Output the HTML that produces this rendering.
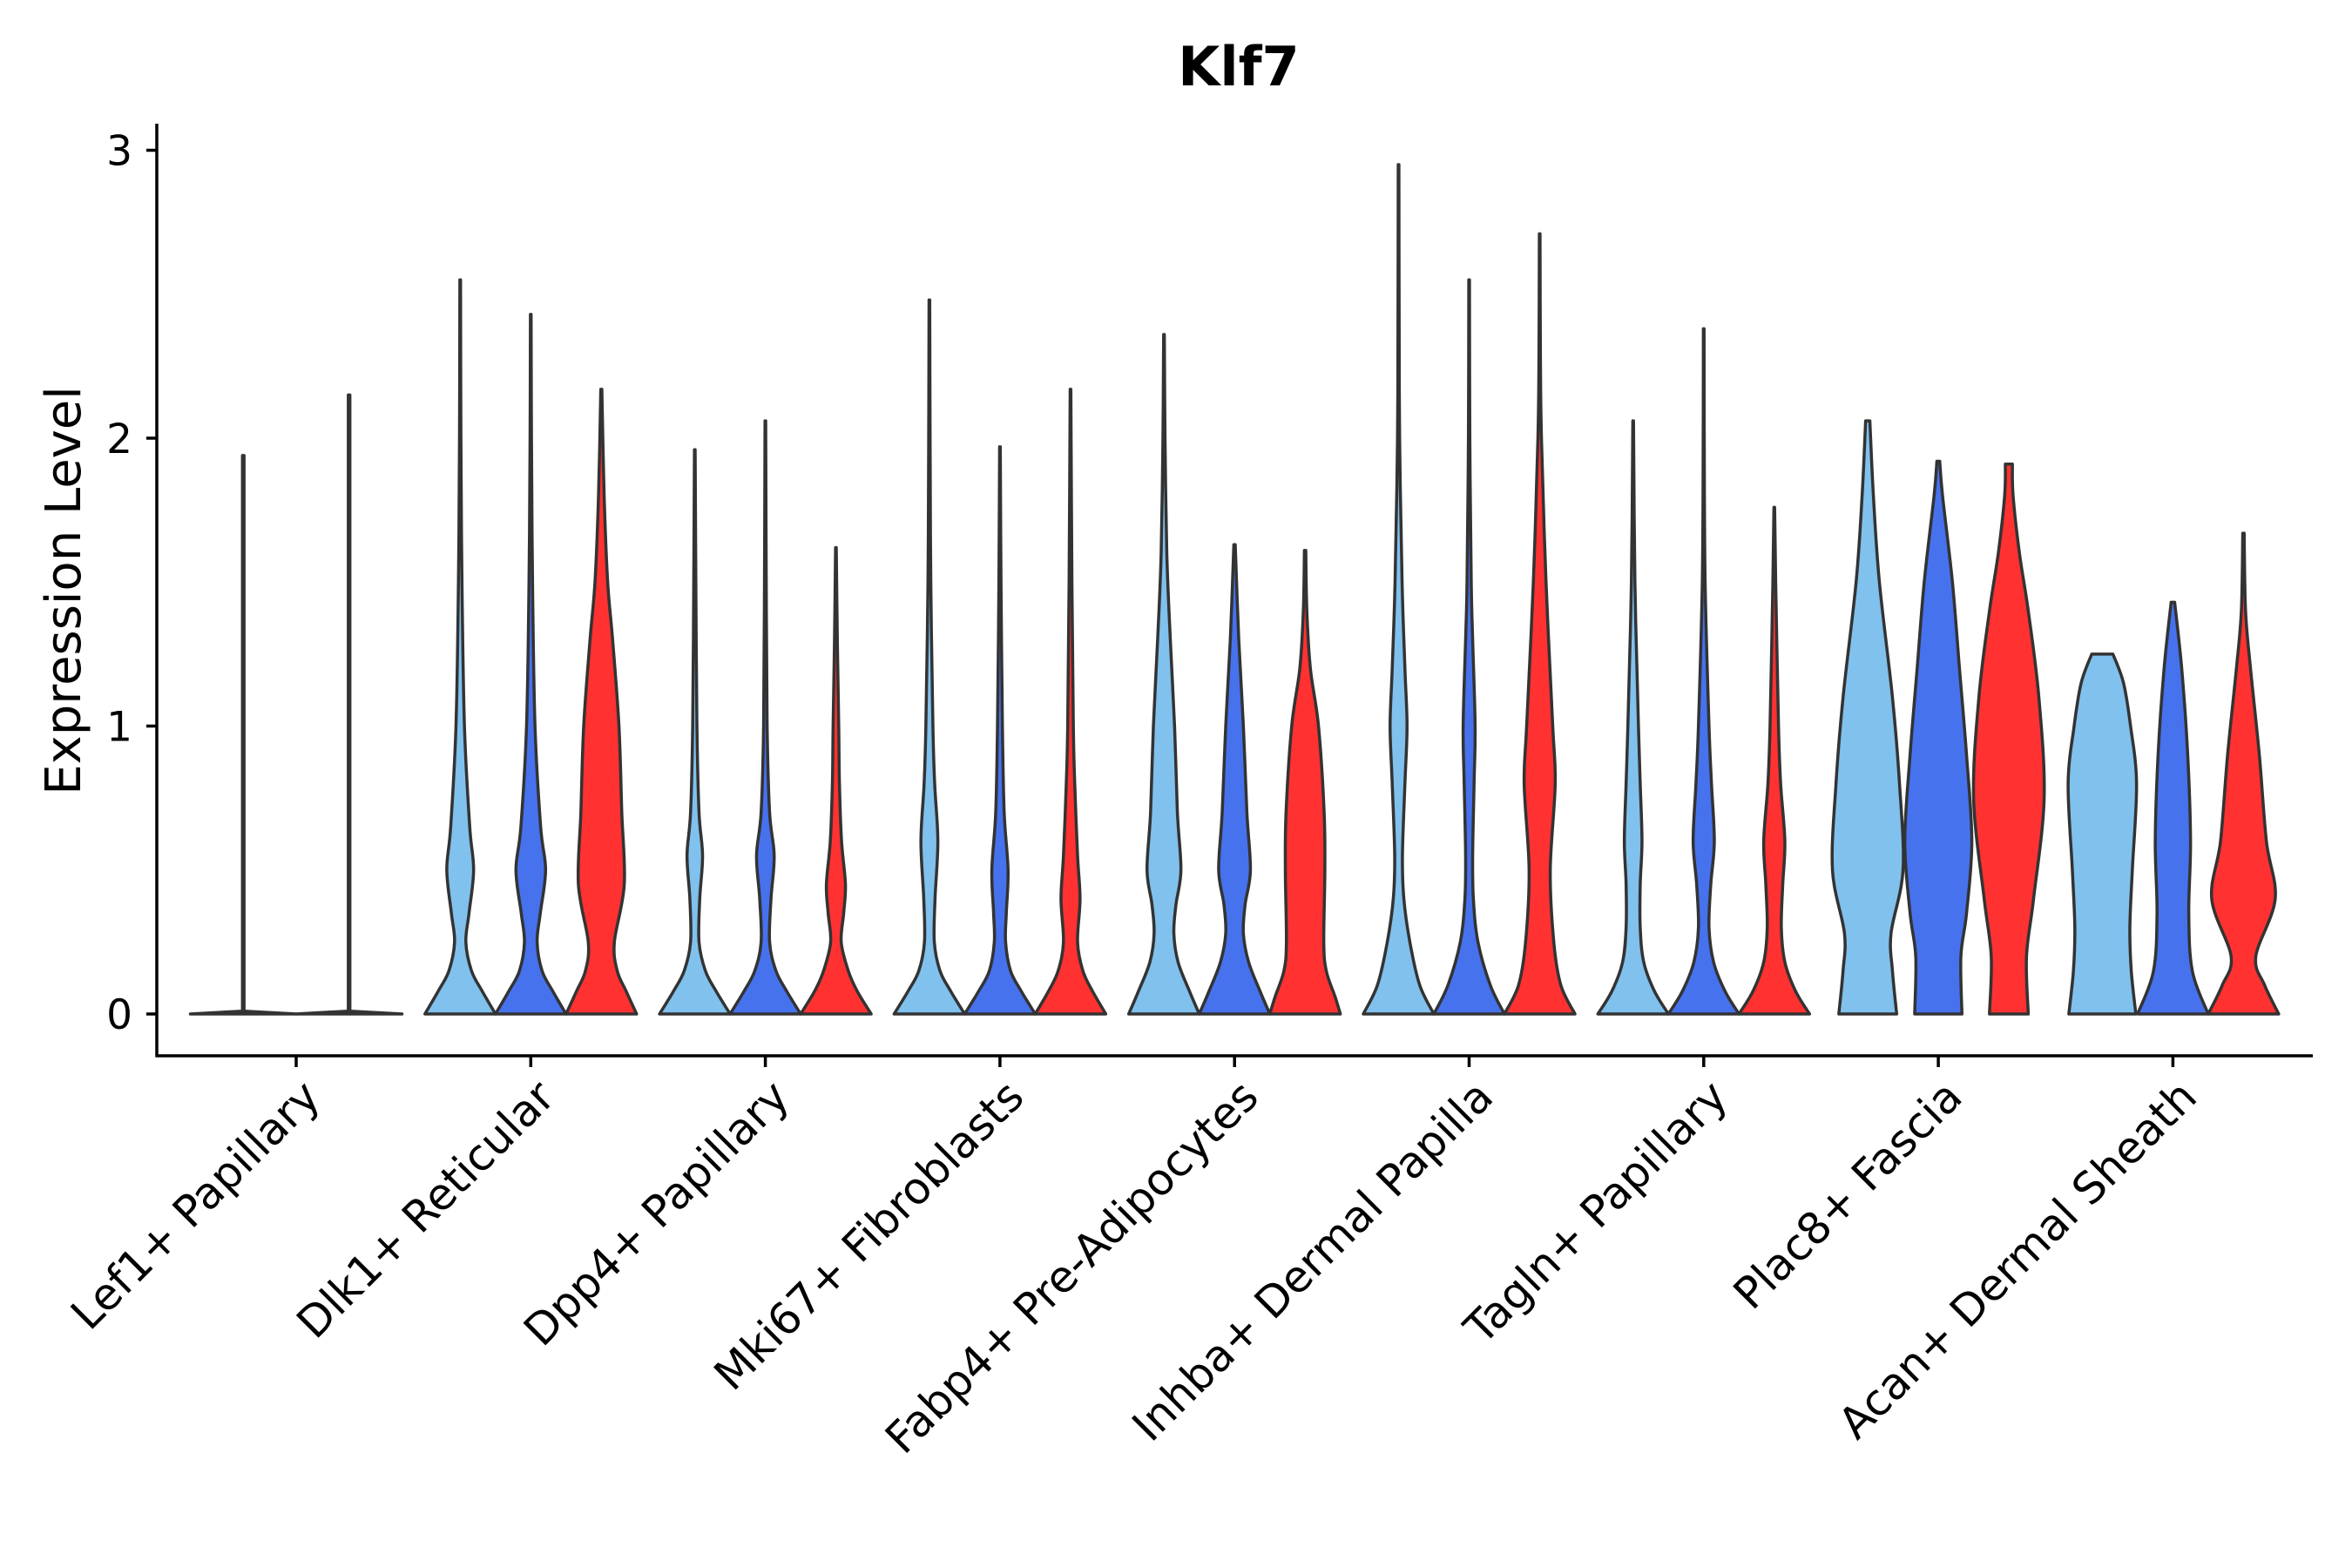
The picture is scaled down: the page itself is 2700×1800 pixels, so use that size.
<!DOCTYPE html>
<html><head><meta charset="utf-8"><style>
html,body{margin:0;padding:0;background:#fff;}
svg{display:block;}
text{font-family:"DejaVu Sans","Liberation Sans",sans-serif;fill:#000;}
</style></head><body>
<svg id="chart" width="2700" height="1800" viewBox="0 0 2700 1800" xmlns="http://www.w3.org/2000/svg">
<text x="1422" y="98" text-anchor="middle" font-size="62" font-weight="bold">Klf7</text>
<text transform="translate(92,678) rotate(-90)" text-anchor="middle" font-size="56">Expression Level</text>
<g id="violins"></g>
<g id="axes"></g>
</svg>
<script>
const categories=["Lef1+ Papillary","Dlk1+ Reticular","Dpp4+ Papillary","Mki67+ Fibroblasts","Fabp4+ Pre-Adipocytes","Inhba+ Dermal Papilla","Tagln+ Papillary","Plac8+ Fascia","Acan+ Dermal Sheath"];
const yTicks=[0,1,2,3];
const maxLight=[1.94,2.55,1.96,2.48,2.36,2.95,2.06,2.06,1.25];
const maxBlue=[2.15,2.43,2.06,1.97,1.63,2.55,2.38,1.92,1.43];
const maxRed=[null,2.17,1.62,2.17,1.61,2.71,1.76,1.91,1.67];
const topLight=[0.015,0.01,0.01,0.01,0.01,0.01,0.01,0.06,0.3];
const topBlue=[0.015,0.01,0.01,0.01,0.02,0.01,0.01,0.04,0.05];
const topRed=[0,0.015,0.01,0.01,0.02,0.01,0.01,0.1,0.02];
const profLight=[
[[0,1],[0.01,0.015]],
[[0,1],[0.08,0.62],[0.15,0.32],[0.25,0.16],[0.35,0.25],[0.5,0.38],[0.65,0.27],[1,0.12],[1.5,0.05],[2,0.02]],
[[0,1],[0.08,0.6],[0.15,0.3],[0.25,0.12],[0.4,0.14],[0.55,0.22],[0.7,0.12],[1,0.06],[1.5,0.03]],
[[0,1],[0.08,0.6],[0.15,0.3],[0.25,0.14],[0.4,0.16],[0.6,0.24],[0.8,0.15],[1,0.1],[1.5,0.04],[2,0.02]],
[[0,1],[0.08,0.72],[0.18,0.4],[0.28,0.28],[0.38,0.34],[0.5,0.48],[0.7,0.38],[1,0.3],[1.3,0.18],[1.6,0.08],[2,0.03]],
[[0,1],[0.1,0.6],[0.25,0.32],[0.4,0.15],[0.55,0.11],[0.8,0.18],[1,0.24],[1.2,0.18],[1.5,0.1],[2,0.03],[2.5,0.015]],
[[0,1],[0.08,0.6],[0.18,0.3],[0.3,0.2],[0.45,0.2],[0.6,0.25],[0.8,0.2],[1,0.15],[1.5,0.05]],
[[0,0.82],[0.15,0.7],[0.28,0.66],[0.5,1],[0.8,0.9],[1.1,0.7],[1.5,0.33],[1.8,0.16]],
[[0,0.95],[0.15,0.82],[0.3,0.78],[0.5,0.85],[0.8,0.97],[1.0,0.8],[1.15,0.6]]
];
const profBlue=[
[[0,1],[0.01,0.015]],
[[0,1],[0.08,0.62],[0.15,0.32],[0.25,0.18],[0.35,0.27],[0.5,0.42],[0.65,0.28],[1,0.12],[1.5,0.05],[2,0.02]],
[[0,1],[0.08,0.6],[0.15,0.3],[0.25,0.12],[0.4,0.16],[0.55,0.25],[0.7,0.12],[1,0.05],[1.5,0.025]],
[[0,1],[0.08,0.6],[0.15,0.3],[0.25,0.16],[0.35,0.18],[0.5,0.23],[0.7,0.12],[1,0.07],[1.5,0.03]],
[[0,1],[0.08,0.72],[0.18,0.4],[0.28,0.25],[0.38,0.3],[0.5,0.45],[0.7,0.35],[1,0.25],[1.3,0.12]],
[[0,1],[0.1,0.6],[0.25,0.25],[0.4,0.12],[0.55,0.1],[0.8,0.14],[1,0.17],[1.3,0.1],[1.5,0.06],[2,0.02]],
[[0,1],[0.08,0.6],[0.18,0.28],[0.3,0.15],[0.45,0.2],[0.6,0.3],[0.8,0.22],[1,0.15],[1.5,0.04],[2,0.015]],
[[0,0.67],[0.2,0.64],[0.35,0.8],[0.6,0.95],[0.9,0.8],[1.2,0.6],[1.5,0.4],[1.8,0.12]],
[[0,1],[0.15,0.55],[0.35,0.45],[0.6,0.5],[0.9,0.42],[1.2,0.25]]
];
const profRed=[
null,
[[0,1],[0.08,0.7],[0.15,0.45],[0.25,0.37],[0.45,0.65],[0.7,0.58],[1,0.5],[1.3,0.32],[1.5,0.18],[1.8,0.08]],
[[0,1],[0.08,0.6],[0.15,0.35],[0.25,0.15],[0.35,0.22],[0.45,0.27],[0.6,0.16],[0.8,0.1],[1,0.08],[1.3,0.04]],
[[0,1],[0.08,0.62],[0.15,0.35],[0.25,0.2],[0.4,0.27],[0.55,0.2],[0.8,0.12],[1,0.08],[1.5,0.04]],
[[0,1],[0.06,0.85],[0.15,0.6],[0.25,0.53],[0.5,0.56],[0.7,0.54],[1,0.38],[1.2,0.15],[1.4,0.05]],
[[0,1],[0.1,0.6],[0.25,0.4],[0.5,0.3],[0.8,0.44],[1,0.37],[1.5,0.18],[2,0.05],[2.3,0.02]],
[[0,1],[0.08,0.6],[0.18,0.3],[0.3,0.2],[0.45,0.24],[0.6,0.3],[0.8,0.18],[1,0.12],[1.5,0.04]],
[[0,0.55],[0.2,0.5],[0.4,0.7],[0.75,1],[1.1,0.85],[1.4,0.55],[1.6,0.3],[1.8,0.12]],
[[0,1],[0.1,0.6],[0.2,0.35],[0.4,0.9],[0.6,0.65],[0.9,0.45],[1.2,0.2],[1.4,0.06]]
];
const colors=["#80C1EE","#4672EE","#FF3131"];
const seriesNames=["light","blue","red"];

const NS="http://www.w3.org/2000/svg";
const plotL=180,plotR=2655,plotB=1212,plotT=142;
const y0=1164,yPerUnit=330.5;
function yScale(v){return y0-v*yPerUnit;}
const firstCenter=340,groupStep=269.3;
function xScale(i){return firstCenter+i*groupStep;}
function mk(tag,attrs,parent){const e=document.createElementNS(NS,tag);for(const k in attrs)e.setAttribute(k,attrs[k]);parent.appendChild(e);return e;}

function crPath(pts,linear){
  let d="M"+pts[0][0].toFixed(2)+","+pts[0][1].toFixed(2);
  for(let i=0;i<pts.length-1;i++){
    const p1=pts[i],p2=pts[i+1];
    if(linear){d+=" L"+p2[0].toFixed(2)+","+p2[1].toFixed(2);continue;}
    const p0=pts[i-1]||pts[i],p3=pts[i+2]||p2;
    const t=0.5/3;
    const c1=[p1[0]+(p2[0]-p0[0])*t,p1[1]+(p2[1]-p0[1])*t];
    const c2=[p2[0]-(p3[0]-p1[0])*t,p2[1]-(p3[1]-p1[1])*t];
    c1[1]=Math.min(c1[1],Math.max(p1[1],p2[1]));c2[1]=Math.min(c2[1],Math.max(p1[1],p2[1]));
    d+=" C"+c1[0].toFixed(2)+","+c1[1].toFixed(2)+" "+c2[0].toFixed(2)+","+c2[1].toFixed(2)+" "+p2[0].toFixed(2)+","+p2[1].toFixed(2);
  }
  return d;
}

const vg=document.getElementById("violins");
const profs=[profLight,profBlue,profRed],maxs=[maxLight,maxBlue,maxRed],tops=[topLight,topBlue,topRed];
for(let g=0;g<categories.length;g++){
  const present=[0,1,2].filter(s=>profs[s][g]&&maxs[s][g]!=null);
  const n=present.length;
  const slot=243/n;
  const hw=slot/2;
  const lin=(g===0);
  present.forEach((s,k)=>{
    const cx=xScale(g)-121.5+slot*(k+0.5);
    const knots=profs[s][g].concat([[maxs[s][g],tops[s][g]]]);
    const right=knots.map(p=>[cx+p[1]*hw,yScale(p[0])]);
    const left=knots.slice().reverse().map(p=>[cx-p[1]*hw,yScale(p[0])]);
    let d=crPath(right,lin);
    d+=" L"+left[0][0].toFixed(2)+","+left[0][1].toFixed(2);
    d+=crPath(left,lin).replace(/^M[^ CL]+/,"");
    d+=" Z";
    const p=mk("path",{d:d,fill:(g===0?"none":colors[s]),stroke:"#333333","stroke-width":"3.5","stroke-linejoin":"round"},vg);
    
    
  });
}

const ag=document.getElementById("axes");
const yl=mk("line",{x1:plotL,y1:plotT,x2:plotL,y2:plotB+1.5,stroke:"#000","stroke-width":"3.5"},ag);


const xl=mk("line",{x1:plotL-1.5,y1:plotB,x2:plotR,y2:plotB,stroke:"#000","stroke-width":"3.5"},ag);


yTicks.forEach(v=>{
  const t=mk("line",{x1:plotL-12,y1:yScale(v),x2:plotL,y2:yScale(v),stroke:"#000","stroke-width":"3.5"},ag);
  
  
  const lb=mk("text",{x:152,y:yScale(v)+17,"text-anchor":"end","font-size":"47"},ag);
  lb.textContent=String(v);
  
  
});
categories.forEach((c,i)=>{
  const x=xScale(i);
  const t=mk("line",{x1:x,y1:plotB,x2:x,y2:plotB+13,stroke:"#000","stroke-width":"3.5"},ag);
  
  
  const lb=mk("text",{transform:"translate("+(x+30)+",1262) rotate(-45)","text-anchor":"end","font-size":"50"},ag);
  lb.textContent=c;
  
  
});
</script>
</body></html>
